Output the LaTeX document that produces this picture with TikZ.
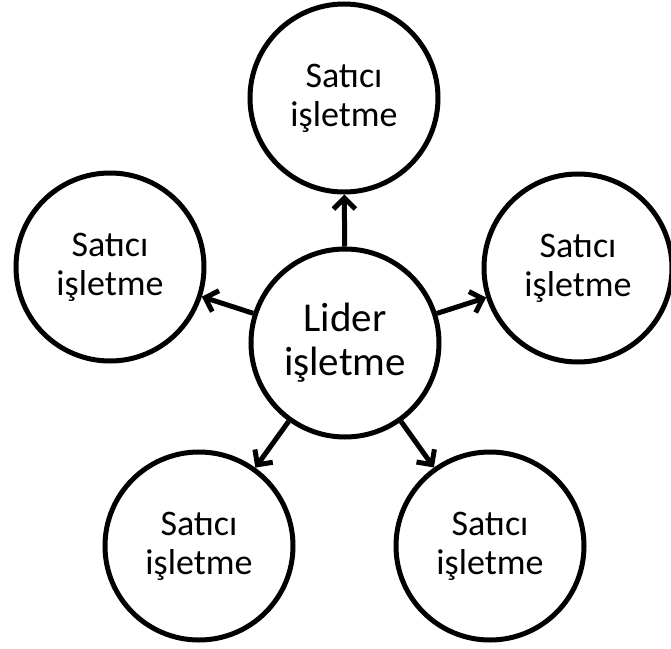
\documentclass[tikz,border=0pt]{standalone}
\usepackage{fontspec}
\setmainfont{Carlito}
\usetikzlibrary{arrows.meta}
\begin{document}
\begin{tikzpicture}[x=1pt,y=1pt,line width=5pt,
    firma/.style={circle,draw,minimum size=188pt,inner sep=0pt,align=center,font=\fontsize{36}{39}\selectfont},
    ok/.style={-{Straight Barb[length=11pt,width=22pt]}}]
        \useasboundingbox (-345,-305) rectangle (326,343);
        \node at (0,0) [firma,font=\fontsize{41}{44}\selectfont] (lider) {Lider\\işletme};
        \node at (-1,245) [firma] (s0) {Satıcı\\işletme};
        \node at (-235,76) [firma] (s1) {Satıcı\\işletme};
        \node at (233,75) [firma] (s2) {Satıcı\\işletme};
        \node at (-146,-203) [firma] (s3) {Satıcı\\işletme};
        \node at (145,-203) [firma] (s4) {Satıcı\\işletme};
        \draw[ok] (lider) -- (s0);
        \draw[ok] (lider) -- (s1);
        \draw[ok] (lider) -- (s2);
        \draw[ok] (lider) -- (s3);
        \draw[ok] (lider) -- (s4);
      \end{tikzpicture}
\end{document}
